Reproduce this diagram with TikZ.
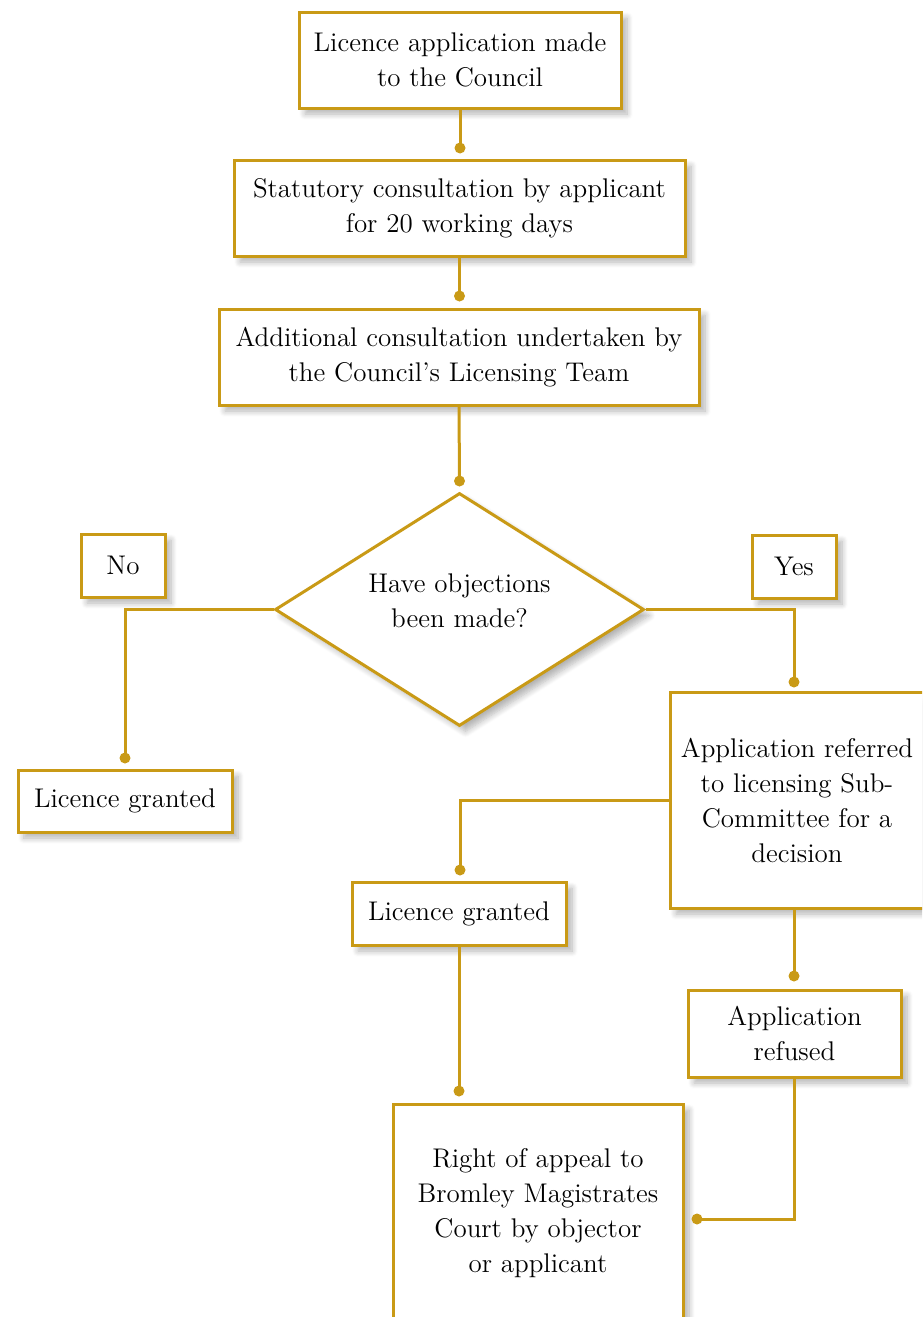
\documentclass[tikz,border=0pt]{standalone}
\usetikzlibrary{shapes.geometric,shadows.blur}
\definecolor{gold}{RGB}{201,154,22}
\begin{document}
\begin{tikzpicture}[x=0.5pt,y=-0.5pt,
  txt/.style={align=center,inner sep=0pt,font=\fontsize{13.5}{17.5}\selectfont},
  box/.style={txt,draw=gold,line width=1.5pt,fill=white,
    blur shadow={shadow xshift=3pt,shadow yshift=-3pt,shadow blur steps=8,shadow blur radius=3pt,shadow opacity=30}},
  dia/.style={box,shape=diamond},
  link/.style={draw=gold,line width=1.5pt},
  dot/.style={circle,fill=gold,inner sep=0pt,minimum size=5.5pt}]
\useasboundingbox (0,0) rectangle (922,1317);
\clip (0,0) rectangle (922,1317);
\node[box,minimum width=161pt,minimum height=48pt] (b1) at (460,60) {Licence application made\\to the Council};
\node[box,minimum width=225.5pt,minimum height=48pt] (b2) at (459.5,208) {Statutory consultation by applicant\\for 20 working days};
\node[box,minimum width=240pt,minimum height=48pt] (b3) at (459,357) {Additional consultation undertaken by\\the Council's Licensing Team};
\node[dia,minimum width=184.5pt,minimum height=116.5pt] (d) at (459.5,609.5) {};
\node[txt] (dt) at (459.5,601) {Have objections\\been made?};
\node[box,minimum width=42pt,minimum height=31.5pt] (no) at (123,565.5) {No};
\node[box,minimum width=42pt,minimum height=31.5pt] (yes) at (794,566.5) {Yes};
\node[box,minimum width=107pt,minimum height=31pt] (lg1) at (125,801) {Licence granted};
\node[box,minimum width=127pt,minimum height=108pt] (ref) at (797,800) {Application referred\\to licensing Sub-\\Committee for a\\decision};
\node[box,minimum width=107pt,minimum height=31.5pt] (lg2) at (459,913.5) {Licence granted};
\node[box,minimum width=106.5pt,minimum height=43.5pt] (rfs) at (794.5,1033.5) {Application\\refused};
\node[box,minimum width=145pt,minimum height=109pt] (app) at (538,1213) {Right of appeal to\\Bromley Magistrates\\Court by objector\\or applicant};
% dots
\node[dot] (p1) at (460,148) {};
\node[dot] (p2) at (459.5,296) {};
\node[dot] (p3) at (459.5,481) {};
\node[dot] (p4) at (125,758) {};
\node[dot] (p5) at (794,682) {};
\node[dot] (p6) at (460,870) {};
\node[dot] (p7) at (794,976) {};
\node[dot] (p8) at (459,1091) {};
\node[dot] (p9) at (697,1219) {};
% connectors
\draw[link] (b1.south) -- (p1.center);
\draw[link] (b2.south) -- (p2.center);
\draw[link] (b3.south) -- (p3.center);
\draw[link] (d.west) -| (p4.center);
\draw[link] (d.east) -| (p5.center);
\draw[link] (ref.west) -| (p6.center);
\draw[link] (ref.south -| p7) -- (p7.center);
\draw[link] (lg2.south) -- (p8.center);
\draw[link] (rfs.south) |- (p9.center);
\end{tikzpicture}
\end{document}
